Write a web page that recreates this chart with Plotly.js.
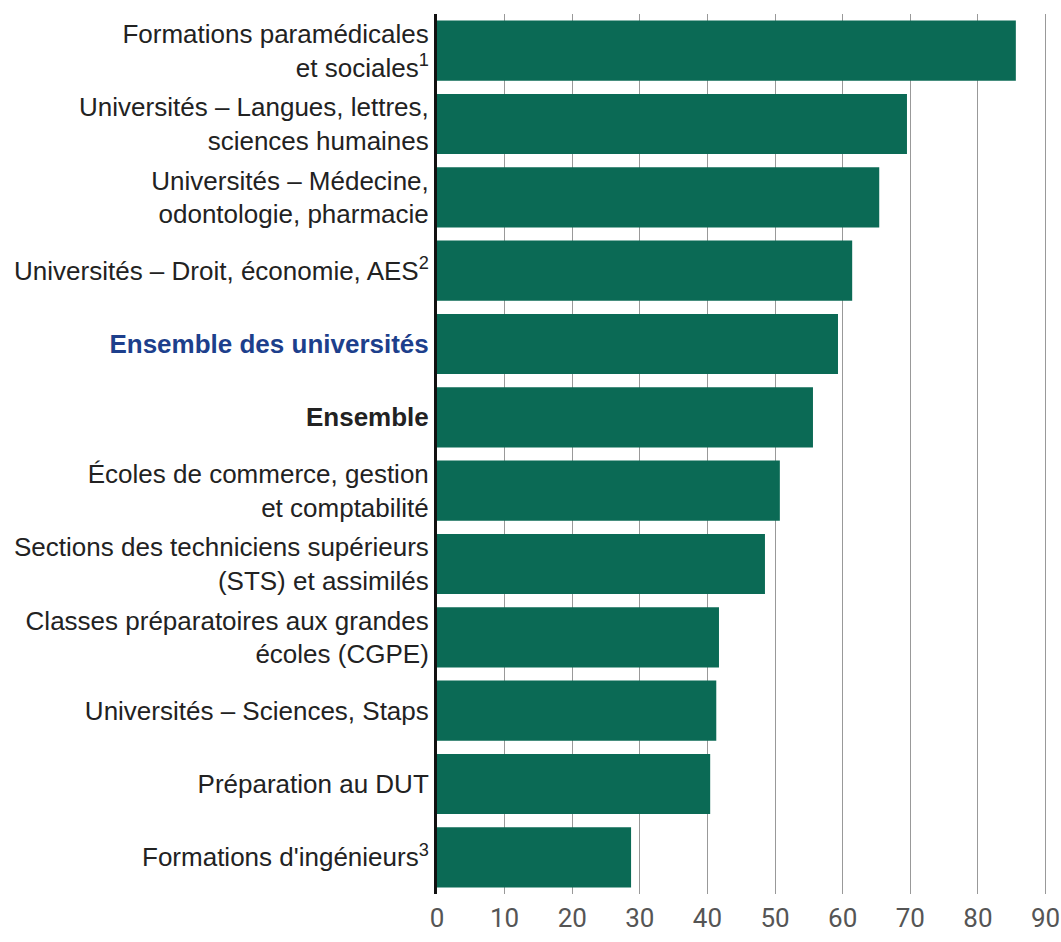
<!DOCTYPE html>
<html>
<head>
<meta charset="utf-8">
<script src="https://cdn.plot.ly/plotly-3.0.1.min.js"></script>
<style>html,body{margin:0;padding:0;background:#fff;}#chart{width:1061px;height:942px;}</style>
</head>
<body>
<div id="chart"></div>
<script>
const categories = [
  "Formations paramédicales<br>et sociales<sup>1</sup>",
  "Universités – Langues, lettres,<br>sciences humaines",
  "Universités – Médecine,<br>odontologie, pharmacie",
  "Universités – Droit, économie, AES<sup>2</sup>",
  "Ensemble des universités",
  "Ensemble",
  "Écoles de commerce, gestion<br>et comptabilité",
  "Sections des techniciens supérieurs<br>(STS) et assimilés",
  "Classes préparatoires aux grandes<br>écoles (CGPE)",
  "Universités – Sciences, Staps",
  "Préparation au DUT",
  "Formations d'ingénieurs<sup>3</sup>"
];
const values = [85.6, 69.5, 65.4, 61.4, 59.3, 55.6, 50.7, 48.5, 41.7, 41.3, 40.4, 28.7];
const xTicks = [0, 10, 20, 30, 40, 50, 60, 70, 80, 90];

const tickText = categories.map(c => {
  if (c === "Ensemble des universités") return '<span style="color:#1d3f8c"><b>' + c + '</b></span>';
  if (c === "Ensemble") return '<b>' + c + '</b>';
  return c;
});

const trace = {
  type: 'bar',
  orientation: 'h',
  x: values,
  y: categories,
  marker: {color: '#0b6a55', line: {width: 0}},
  hoverinfo: 'x+y'
};

const layout = {
  width: 1061,
  height: 942,
  margin: {l: 437, r: 10, t: 14, b: 48},
  paper_bgcolor: '#ffffff',
  plot_bgcolor: '#ffffff',
  bargap: 0.18,
  showlegend: false,
  font: {family: 'Liberation Sans, Arial, sans-serif', color: '#222'},
  xaxis: {
    range: [0, 90.8],
    tickvals: xTicks,
    ticktext: xTicks.map(String),
    showgrid: true,
    gridcolor: '#999999',
    gridwidth: 1,
    zeroline: false,
    showline: false,
    ticks: '',
    ticklabelstandoff: 6,
    tickfont: {family: 'Roboto, sans-serif', size: 26, color: '#555'},
    fixedrange: true
  },
  yaxis: {
    type: 'category',
    autorange: 'reversed',
    tickvals: categories,
    ticktext: tickText,
    showgrid: false,
    zeroline: false,
    showline: true,
    linecolor: '#111',
    linewidth: 3,
    ticks: '',
    tickfont: {family: 'Liberation Sans, Arial, sans-serif', size: 26, color: '#222'},
    fixedrange: true
  }
};

Plotly.newPlot('chart', [trace], layout, {displayModeBar: false, staticPlot: true});
</script>
</body>
</html>
